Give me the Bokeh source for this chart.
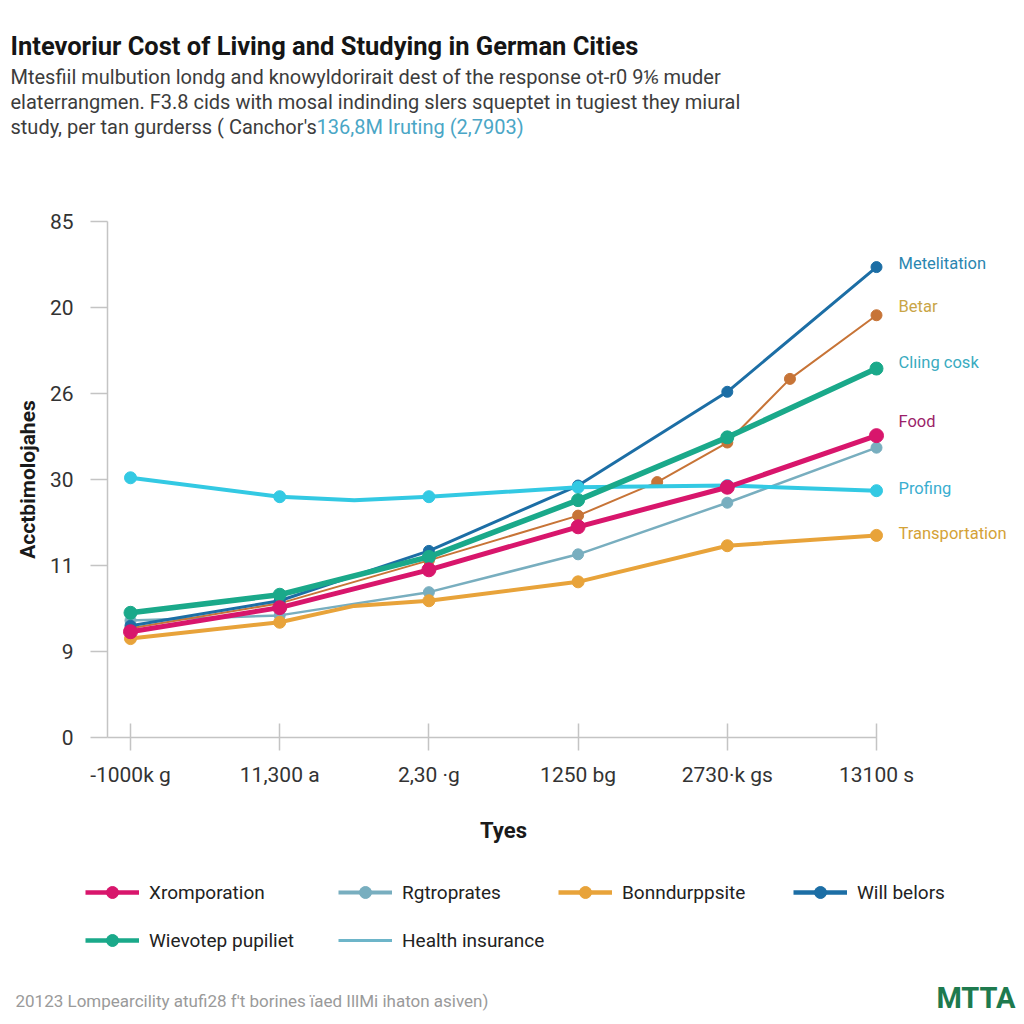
from bokeh.plotting import figure
from bokeh.layouts import column, row
from bokeh.models import FixedTicker, Legend, LegendItem, Range1d
from bokeh.core.properties import value
from bokeh.embed import file_html
from bokeh.resources import INLINE

# ---------------- data ----------------
x_labels = ["-1000k g", "11,300 a", "2,30 \u00b7g", "1250 bg", "2730\u00b7k gs", "13100 s"]
y_tick_labels = ["0", "9", "11", "30", "26", "20", "85"]

metelitation_x = [0, 1, 2, 3, 4, 5]
metelitation_y = [1.30, 1.59, 2.17, 2.93, 4.02, 5.47]

betar_x = [0, 1, 2, 3, 3.53, 4, 4.42, 5]
betar_y = [1.27, 1.56, 2.06, 2.58, 2.97, 3.43, 4.17, 4.91]

cliing_x = [0, 1, 2, 3, 4, 5]
cliing_y = [1.45, 1.66, 2.10, 2.76, 3.49, 4.29]

food_x = [0, 1, 2, 3, 4, 5]
food_y = [1.23, 1.51, 1.95, 2.45, 2.91, 3.51]

rgtro_x = [0, 1, 2, 3, 4, 5]
rgtro_y = [1.36, 1.42, 1.69, 2.13, 2.73, 3.37]

profing_x = [0, 1, 1.5, 2, 3, 4, 5]
profing_y = [3.02, 2.80, 2.76, 2.80, 2.91, 2.93, 2.87]

transport_x = [0, 1, 1.5, 2, 3, 4, 5]
transport_y = [1.15, 1.34, 1.53, 1.59, 1.81, 2.23, 2.35]

title_text = "Intevoriur Cost of Living and Studying in German Cities"
subtitle_1 = "Mtesfiil mulbution londg and knowyldorirait dest of the response ot-r0 9\u2159 muder"
subtitle_2 = "elaterrangmen. F3.8 cids with mosal indinding slers squeptet in tugiest they miural"
subtitle_3a = "study, per tan gurderss ( Canchor's"
subtitle_3b = "136,8M Iruting (2,7903)"
x_axis_title = "Tyes"
y_axis_title = "Acctbimolojahes"
footer_text = "20123 Lompearcility atufi28 f't borines \u00efaed IllMi ihaton asiven)"
brand_text = "MTTA"

legend_labels = ["Xromporation", "Rgtroprates", "Bonndurppsite", "Will belors",
                 "Wievotep pupiliet", "Health insurance"]
end_labels = ["Metelitation", "Betar", "Cl\u0131ing cosk", "Food", "Profing", "Transportation"]

FONT = "Roboto"
W = 1020

# ---------------- styles ----------------
C_STEEL = "#78aebf"
C_BROWN = "#c77437"
C_BLUE = "#1c6ea5"
C_ORANGE = "#e8a33a"
C_CYAN = "#33c9e3"
C_TEAL = "#1aa98a"
C_MAGENTA = "#d8166c"
C_HEALTH = "#6db5c9"

def plain(w, h, xr, yr):
    f = figure(width=w, height=h, output_backend="svg", toolbar_location=None,
               x_range=xr, y_range=yr, min_border=0, outline_line_color=None,
               background_fill_color="white", border_fill_color="white")
    f.axis.visible = False
    f.grid.visible = False
    return f

def htext(f, x, y, txt, size, color, bold=False, align="left"):
    f.text(x=[x], y=[y], text=[txt], text_font=value(FONT), text_font_size=size,
           text_color=color, text_font_style="bold" if bold else "normal",
           text_baseline="middle", text_align=align)

# ---------------- header ----------------
HEAD_H = 160
head = plain(W, HEAD_H, Range1d(0, W), Range1d(HEAD_H, 0))
htext(head, 10, 45, title_text, "25.5px", "#151515", bold=True)
htext(head, 10, 76, subtitle_1, "20px", "#3c3c3c")
htext(head, 10, 101, subtitle_2, "20px", "#3c3c3c")
htext(head, 10, 126, subtitle_3a, "20px", "#3c3c3c")
htext(head, 316, 126, subtitle_3b, "20px", "#4aa6c6")

# ---------------- main chart ----------------
MAIN_BOTTOM = 797
MAIN_H = MAIN_BOTTOM - HEAD_H
PX_X = 149.2          # pixels per category step
PX_Y = 86.0           # pixels per y step
FRAME_L, FRAME_R = 107, 1012
x_start = -23 / PX_X
x_end = x_start + (FRAME_R - FRAME_L) / PX_X
p = figure(width=W, height=MAIN_H, output_backend="svg", toolbar_location=None,
           x_range=Range1d(x_start, x_end), y_range=Range1d(0, 6),
           min_border_left=FRAME_L, min_border_right=W - FRAME_R, min_border_top=61,
           min_border_bottom=MAIN_BOTTOM - 737, outline_line_color=None,
           background_fill_color="white", border_fill_color="white")
p.grid.visible = False

xa = p.xaxis[0]
xa.ticker = FixedTicker(ticks=list(range(len(x_labels))))
xa.major_label_overrides = {i: s for i, s in enumerate(x_labels)}
xa.bounds = (x_start, len(x_labels) - 1)
xa.axis_line_color = "#c4c4c4"
xa.axis_line_width = 1.5
xa.major_tick_line_color = "#c4c4c4"
xa.major_tick_line_width = 1.5
xa.major_tick_in = 14
xa.major_tick_out = 13
xa.minor_tick_line_color = None
xa.major_label_text_font = FONT
xa.major_label_text_font_size = "21px"
xa.major_label_text_color = "#333333"
xa.major_label_standoff = 12

ya = p.yaxis[0]
ya.ticker = FixedTicker(ticks=list(range(len(y_tick_labels))))
ya.major_label_overrides = {i: s for i, s in enumerate(y_tick_labels)}
ya.axis_line_color = "#c4c4c4"
ya.axis_line_width = 1.5
ya.major_tick_line_color = "#c4c4c4"
ya.major_tick_line_width = 1.5
ya.major_tick_in = 0
ya.major_tick_out = 17
ya.minor_tick_line_color = None
ya.major_label_text_font = FONT
ya.major_label_text_font_size = "21px"
ya.major_label_text_color = "#333333"
ya.major_label_standoff = 17
ya.axis_label = y_axis_title
ya.axis_label_text_font = FONT
ya.axis_label_text_font_style = "bold"
ya.axis_label_text_font_size = "21px"
ya.axis_label_text_color = "#1a1a1a"
ya.axis_label_standoff = 7

def draw(f, xs, ys, color, lw, size, only_int=True):
    f.line(xs, ys, line_color=color, line_width=lw, line_join="round", line_cap="round")
    if only_int:
        mx = [x for x in xs if float(x).is_integer()]
        my = [y for x, y in zip(xs, ys) if float(x).is_integer()]
    else:
        mx, my = xs, ys
    f.scatter(mx, my, size=size, fill_color=color, line_color=color)

draw(p, rgtro_x, rgtro_y, C_STEEL, 2.5, 11)
draw(p, betar_x, betar_y, C_BROWN, 2, 11, only_int=False)
draw(p, metelitation_x, metelitation_y, C_BLUE, 3, 11)
draw(p, transport_x, transport_y, C_ORANGE, 4, 12)
draw(p, profing_x, profing_y, C_CYAN, 4, 12)
draw(p, cliing_x, cliing_y, C_TEAL, 5.5, 13)
draw(p, food_x, food_y, C_MAGENTA, 5, 14)

# right-side series labels, next to each line's last point
end_x = [metelitation_x[-1], betar_x[-1], cliing_x[-1], food_x[-1],
         profing_x[-1], transport_x[-1]]
end_values = [metelitation_y[-1], betar_y[-1], cliing_y[-1], food_y[-1],
              profing_y[-1], transport_y[-1]]
end_shift_px = [4, 9, 6, 14, 2, 2]
end_colors = ["#2b86b0", "#c9a546", "#3aabbf", "#9b1f6a", "#3aaed0", "#d4a237"]
p.text(x=[x + 22 / PX_X for x in end_x],
       y=[v + s / PX_Y for v, s in zip(end_values, end_shift_px)],
       text=end_labels, text_color=end_colors, text_font=value(FONT),
       text_font_size="16.5px", text_baseline="middle", text_align="left")

# ---------------- x title + legend + footer ----------------
LEG_H = 1020 - MAIN_BOTTOM
leg = plain(W, LEG_H, Range1d(0, W), Range1d(LEG_H, 0))
TOP = MAIN_BOTTOM

htext(leg, 503, 830 - TOP, x_axis_title, "22px", "#1a1a1a", bold=True, align="center")

NAN = [float("nan")]

def proto(color, lw, size, marker=True):
    rs = [leg.line(x=NAN, y=NAN, line_color=color, line_width=lw)]
    if marker:
        rs.append(leg.scatter(x=NAN, y=NAN, size=size, fill_color=color, line_color=color))
    return rs

leg_renderers = [
    proto(C_MAGENTA, 4.5, 12),
    proto(C_STEEL, 4, 12),
    proto(C_ORANGE, 4.5, 12),
    proto(C_BLUE, 4.5, 12),
    proto(C_TEAL, 4.5, 12),
    proto(C_HEALTH, 3, 0, marker=False),
]
leg_pos = [(85, 892), (338, 892), (558, 892), (793, 892), (85, 940), (338, 940)]
GH = 30
for lab, rends, (px, py) in zip(legend_labels, leg_renderers, leg_pos):
    cy = py - TOP
    lg = Legend(items=[LegendItem(label=lab, renderers=rends)],
                location=(px, LEG_H - (cy - GH / 2) - GH),
                orientation="horizontal", glyph_width=54, glyph_height=GH,
                label_height=GH, label_standoff=10, padding=0, margin=0, spacing=0,
                border_line_color=None, background_fill_alpha=0,
                label_text_font=FONT, label_text_font_size="19px",
                label_text_color="#222222")
    leg.add_layout(lg)

htext(leg, 15, 1000 - TOP, footer_text, "17px", "#9a9a9a")
htext(leg, 1015, 997 - TOP, brand_text, "29px", "#1e7a4e", bold=True, align="right")

layout = column(row(head), row(p), row(leg), spacing=0)
open("out.html", "w").write(file_html(layout, INLINE))
